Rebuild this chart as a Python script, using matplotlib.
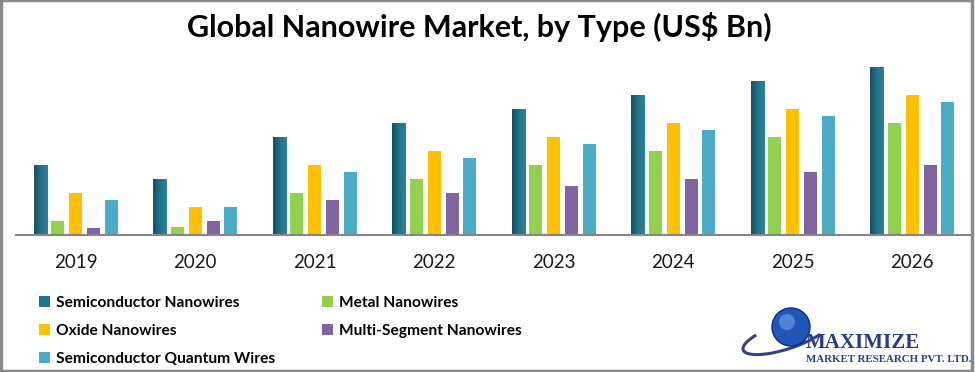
import matplotlib
matplotlib.use('Agg')
import matplotlib.pyplot as plt
import numpy as np
from matplotlib.patches import Rectangle, Circle, Arc
from matplotlib.colors import LinearSegmentedColormap

years = ['2019', '2020', '2021', '2022', '2023', '2024', '2025', '2026']
series = ['Semiconductor Nanowires', 'Metal Nanowires', 'Oxide Nanowires',
          'Multi-Segment Nanowires', 'Semiconductor Quantum Wires']
semiconductor = [1.0, 0.8, 1.4, 1.6, 1.8, 2.0, 2.2, 2.4]
metal = [0.2, 0.11, 0.6, 0.8, 1.0, 1.2, 1.4, 1.6]
oxide = [0.6, 0.4, 1.0, 1.2, 1.4, 1.6, 1.8, 2.0]
multi_segment = [0.1, 0.2, 0.5, 0.6, 0.7, 0.8, 0.9, 1.0]
quantum = [0.5, 0.4, 0.9, 1.1, 1.3, 1.5, 1.7, 1.9]
colors = ['#22728A', '#92D050', '#FFC000', '#8064A2', '#4BACC6']

plt.rcParams['font.family'] = ['Lato', 'DejaVu Sans']

W, H = 975, 372
fig = plt.figure(figsize=(W / 100, H / 100), dpi=100)

# chart area: baseline at y=235px, spans x 16..972
ax = fig.add_axes([16 / W, (H - 235) / H, (972 - 16) / W, 185 / H])
x = np.arange(len(years))
pitch = 0.149
width = 0.109
handles = []
for i, (vals, c) in enumerate(zip([semiconductor, metal, oxide, multi_segment, quantum], colors)):
    b = ax.bar(x + (i - 2) * pitch, vals, width=width, color=c, label=series[i])
    handles.append(b)

# left-to-right shading on the semiconductor bars
grad = LinearSegmentedColormap.from_list('teal', ['#17505F', '#22728A', '#2A8499'])
for r in handles[0].patches:
    x0, w, h = r.get_x(), r.get_width(), r.get_height()
    im = ax.imshow(np.linspace(0, 1, 50).reshape(1, -1), cmap=grad, aspect='auto',
                   extent=(x0, x0 + w, 0, h), zorder=r.get_zorder() + 0.1)
    im.set_clip_path(r)
ax.set_xlim(-0.5, len(years) - 0.5)
ax.set_ylim(0, 2.643)

ax.set_xticks(x)
ax.set_xticklabels(years, fontsize=13.5)
ax.tick_params(axis='x', length=0, pad=14, colors='#1a1a1a')
ax.set_yticks([])
for s in ['top', 'left', 'right']:
    ax.spines[s].set_visible(False)
ax.spines['bottom'].set_color('#868686')
ax.spines['bottom'].set_linewidth(1.5)

fig.text(479 / W, 1 - 27 / H, 'Global Nanowire Market, by Type (US$ Bn)',
         ha='center', va='center', fontsize=22, fontweight='bold')

leg_kw = dict(loc='upper left', frameon=False, handlelength=0.75, handleheight=0.75,
              handletextpad=0.35, labelspacing=0.9, borderpad=0,
              prop={'size': 11.2, 'weight': 'bold'})
fig.legend([handles[0], handles[2], handles[4]], [series[0], series[2], series[4]],
           bbox_to_anchor=(31 / W, 1 - 288 / H), **leg_kw)
fig.legend([handles[1], handles[3]], [series[1], series[3]],
           bbox_to_anchor=(314 / W, 1 - 288 / H), **leg_kw)

# logo
fig.patches.append(Arc((7.86, (H - 336) / 100), 0.9, 0.26, angle=18,
                       theta1=160, theta2=345, transform=fig.dpi_scale_trans,
                       color='#3a3f8a', lw=2.2))
fig.patches.append(Circle((7.91, (H - 327) / 100), 0.19, transform=fig.dpi_scale_trans,
                          facecolor='#1f56b8', edgecolor='#0d2d78', lw=1))
fig.patches.append(Circle((7.87, (H - 322) / 100), 0.08, transform=fig.dpi_scale_trans,
                          facecolor='#6fa3e6', edgecolor='none', alpha=0.6))
fig.text(806 / W, 1 - 343 / H, 'MAXIMIZE', fontsize=15, fontweight='bold',
         family='Liberation Serif', color='#2b3b8c', va='center')
fig.text(806 / W, 1 - 359 / H, 'MARKET RESEARCH PVT. LTD.', fontsize=7.8, fontweight='bold',
         family='Liberation Serif', color='#2b3b8c', va='center')

# outer frame
fig.patches.append(Rectangle((0.001, 0.004), 0.996, 0.995, transform=fig.transFigure,
                             fill=False, edgecolor='#8a8a8a', lw=2.5))

fig.savefig('out.png', dpi=100)
